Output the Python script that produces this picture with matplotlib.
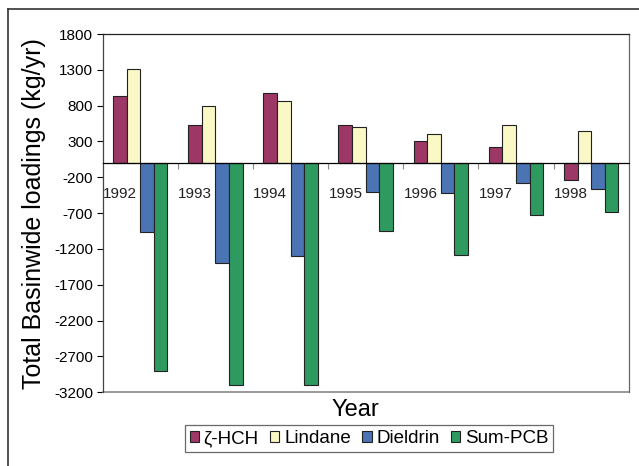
import numpy as np
import matplotlib.pyplot as plt
from matplotlib.lines import Line2D

plt.rcParams['font.family'] = ['Liberation Sans', 'DejaVu Sans']

years = ['1992', '1993', '1994', '1995', '1996', '1997', '1998']
series = ['\u03b6-HCH', 'Lindane', 'Dieldrin', 'Sum-PCB']
hch = [940, 535, 980, 525, 300, 230, -235]
lindane = [1305, 790, 870, 505, 410, 530, 445]
dieldrin = [-960, -1400, -1300, -405, -415, -280, -365]
pcb = [-2905, -3100, -3100, -950, -1290, -725, -680]
colors = ['#9C3766', '#FAF8C4', '#4A74B4', '#2F9A60']
yticks = list(range(1800, -3201, -500))

fig = plt.figure(figsize=(6.39, 4.66), dpi=100)
ax = fig.add_axes([102.7/639, 1-392.3/466, 526/639, (392.3-34)/466])

x = np.arange(len(years))
w = 0.181
for k, (vals, c, name) in enumerate(zip([hch, lindane, dieldrin, pcb], colors, series)):
    ax.bar(x + (k-1.5)*w, vals, w, color=c, edgecolor='#222222', linewidth=0.8, label=name, zorder=2)

ax.set_xlim(-0.5, len(years)-0.5)
ax.set_ylim(-3200, 1800)
ax.set_yticks(yticks)
ax.set_yticklabels([str(t) for t in yticks], fontsize=11)
ax.tick_params(axis='y', direction='out', length=4, width=0.8, pad=3)

# category axis sits on zero
ax.spines['bottom'].set_position(('data', 0))
ax.spines['bottom'].set_zorder(3)
ax.set_xticks(x[:-1] + 0.5)
ax.set_xticklabels([])
ax.tick_params(axis='x', direction='out', length=4, width=0.8, color='#888888')
for i, yr in enumerate(years):
    ax.text(i - 0.27, -430, yr, ha='center', va='center', fontsize=11, color='#222222')

ax.plot([0, 1], [0, 0], transform=ax.transAxes, color='#888888', lw=1.2, clip_on=False)
ax.spines['right'].set_color('#666666')
ax.spines['left'].set_color('#444444')
ax.spines['top'].set_color('#222222')
for s in ax.spines.values():
    s.set_linewidth(0.9)

ax.set_ylabel('Total Basinwide loadings (kg/yr)', fontsize=18, labelpad=6)
fig.text(355/639, 1-410/466, 'Year', ha='center', va='center', fontsize=17)

leg = fig.legend(loc='center', bbox_to_anchor=(369/639, 1-438.5/466), ncol=4, fontsize=13.5,
                 handlelength=0.5, handleheight=0.5, handletextpad=0.25, columnspacing=0.6,
                 borderpad=0.25, frameon=True, fancybox=False, edgecolor='#444444')
leg.get_frame().set_linewidth(0.9)

# outer chart frame (cropped on right and bottom)
fig.add_artist(Line2D([8/639, 8/639], [1-9/466, 0], color='#333333', lw=1.2))
fig.add_artist(Line2D([8/639, 1], [1-9/466, 1-9/466], color='#333333', lw=1.2))

fig.savefig('out.png', dpi=100)
